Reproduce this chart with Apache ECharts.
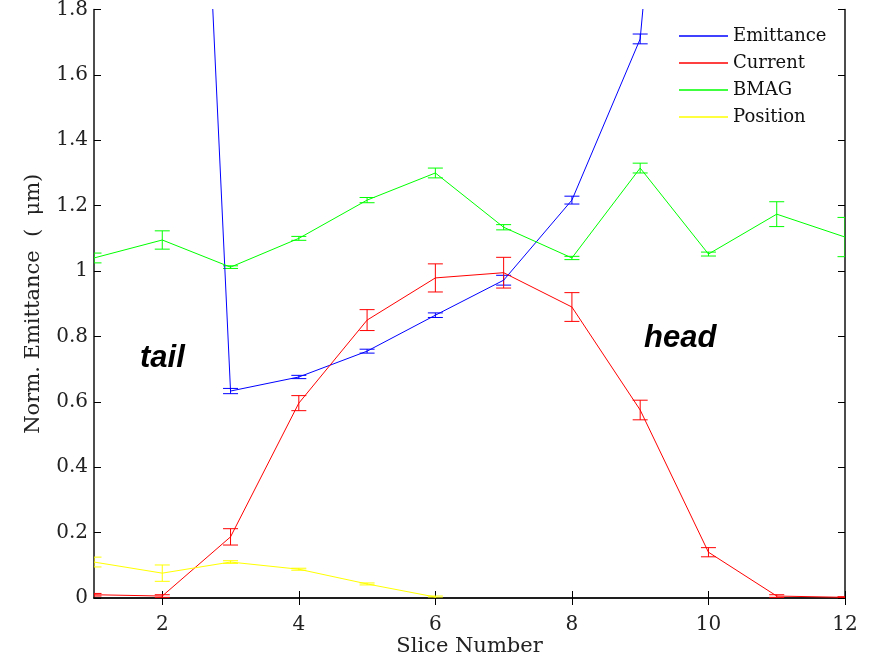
<!DOCTYPE html>
<html><head><meta charset="utf-8">
<script src="https://cdn.jsdelivr.net/npm/echarts@6/dist/echarts.min.js"></script>
<style>html,body{margin:0;padding:0;background:#fff}#c{width:880px;height:657px}</style>
</head><body><div id="c"></div>
<script>
const slices = [1,2,3,4,5,6,7,8,9,10,11,12];
const emittance = [5.5, 5.12, 0.633, 0.676, 0.755, 0.865, 0.972, 1.217, 1.71, 4.0, 5.0, 5.5];
const emittanceErr = [0.01, 0.01, 0.008, 0.005, 0.006, 0.007, 0.015, 0.012, 0.015, 0.02, 0.02, 0.02];
const current = [0.01, 0.006, 0.187, 0.596, 0.85, 0.979, 0.995, 0.89, 0.575, 0.14, 0.006, 0.002];
const currentErr = [0.004, 0.004, 0.025, 0.023, 0.032, 0.043, 0.047, 0.044, 0.03, 0.014, 0.004, 0.002];
const bmag = [1.04, 1.095, 1.012, 1.1, 1.217, 1.30, 1.134, 1.04, 1.315, 1.052, 1.174, 1.104];
const bmagErr = [0.015, 0.028, 0.004, 0.006, 0.008, 0.015, 0.008, 0.005, 0.015, 0.006, 0.038, 0.06];
const position = [0.11, 0.076, 0.11, 0.088, 0.043, 0.003];
const positionErr = [0.015, 0.025, 0.004, 0.003, 0.003, 0.003];
const xTicks = [2,4,6,8,10,12];
const seriesNames = ['Emittance','Current','BMAG','Position'];
const colors = ['#0000ff','#ff0000','#00ff00','#ffff00'];

const vals = [emittance, current, bmag, position];
const errs = [emittanceErr, currentErr, bmagErr, positionErr];
const FONT = 'DejaVu Serif';

function errSeries(i){
  const data = vals[i].map((v,k)=>[slices[k], v-errs[i][k], v+errs[i][k]]);
  return {
    type:'custom', silent:true, clip:true, z:3,
    itemStyle:{color:colors[i]},
    renderItem(params, api){
      const x = api.value(0);
      const lo = api.coord([x, api.value(1)]);
      const hi = api.coord([x, api.value(2)]);
      const w = 7.5;
      const st = {stroke: colors[i], lineWidth: 1};
      return {type:'group', children:[
        {type:'line', shape:{x1:lo[0],y1:lo[1],x2:hi[0],y2:hi[1]}, style:st},
        {type:'line', shape:{x1:lo[0]-w,y1:lo[1],x2:lo[0]+w,y2:lo[1]}, style:st},
        {type:'line', shape:{x1:hi[0]-w,y1:hi[1],x2:hi[0]+w,y2:hi[1]}, style:st}
      ]};
    },
    encode:{x:0, y:[1,2]},
    data
  };
}

const series = [];
seriesNames.forEach((n,i)=>{
  series.push({
    name:n, type:'line', symbol:'none', clip:true, z:4, color:colors[i],
    lineStyle:{color:colors[i], width:1},
    itemStyle:{color:colors[i]},
    data: vals[i].map((v,k)=>[slices[k], v])
  });
  series.push(errSeries(i));
});

const axisCommon = {
  axisLine:{show:true, lineStyle:{color:'#111', width:1.5}},
  splitLine:{show:false}
};

const chart = echarts.init(document.getElementById('c'), null, {renderer:'canvas'});
chart.setOption({
  animation:false,
  backgroundColor:'#fff',
  color: colors,
  grid:{left:94, right:35, top:9.5, bottom:59, containLabel:false, outerBoundsMode:'none'},
  legend:{
    data: seriesNames.map((n,i)=>({name:n, itemStyle:{color:colors[i]}})),
    orient:'vertical', left:679, top:27, padding:0,
    itemWidth:49, itemHeight:14, itemGap:9, icon:'path://M0,7 L48,7 L48,8.3 L0,8.3 Z',
    textStyle:{fontFamily:FONT, fontSize:18, color:'#111'},
    selectedMode:false
  },
  xAxis:[
    Object.assign({type:'value', min:1, max:12, position:'bottom',
      name:'Slice Number', nameLocation:'middle', nameGap:38, nameMoveOverlap:false,
      nameTextStyle:{fontFamily:FONT, fontSize:21, color:'#222'},
      axisTick:{show:true, inside:true, length:7, customValues:xTicks, lineStyle:{color:'#000'}},
      axisLabel:{customValues:xTicks, fontFamily:FONT, fontSize:20, color:'#222', margin:17}
    }, axisCommon),
    Object.assign({type:'value', min:1, max:12, position:'top',
      axisTick:{show:true, inside:true, length:7, customValues:xTicks, lineStyle:{color:'#000'}},
      axisLabel:{show:false}
    }, axisCommon)
  ],
  yAxis:[
    Object.assign({type:'value', min:0, max:1.8, interval:0.2, position:'left',
      name:'Norm. Emittance  (  μm)', nameLocation:'middle', nameGap:50, nameMoveOverlap:false,
      nameTextStyle:{fontFamily:FONT, fontSize:21, color:'#222'},
      axisTick:{show:true, inside:true, length:7, lineStyle:{color:'#000'}},
      axisLabel:{fontFamily:FONT, fontSize:20, color:'#222', margin:6}
    }, axisCommon),
    Object.assign({type:'value', min:0, max:1.8, interval:0.2, position:'right',
      axisTick:{show:true, inside:true, length:7, lineStyle:{color:'#000'}},
      axisLabel:{show:false}
    }, axisCommon)
  ],
  graphic:[
    {type:'text', left:140, top:343, style:{text:'tail', fontFamily:'Liberation Sans', fontStyle:'italic', fontWeight:'bold', fontSize:31, fill:'#000'}},
    {type:'text', left:644, top:323, style:{text:'head', fontFamily:'Liberation Sans', fontStyle:'italic', fontWeight:'bold', fontSize:31, fill:'#000'}}
  ],
  series
});
</script>
</body></html>
